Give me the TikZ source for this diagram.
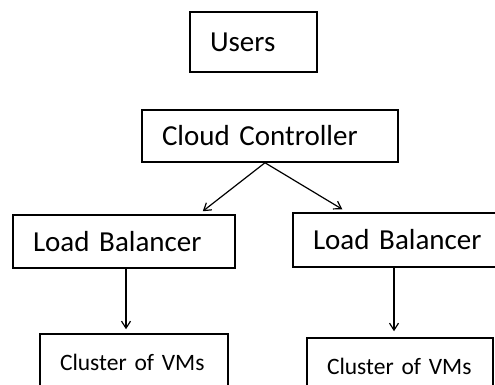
\documentclass[tikz,border=0pt]{standalone}
\usepackage{fontspec}
\setmainfont{Carlito}
\usetikzlibrary{positioning, arrows.meta, calc}

\tikzset{
  box/.style={draw, line width=1.5pt, align=left, inner xsep=20pt, inner ysep=0pt,
    text width=#1, font=\fontsize{29}{34}\selectfont},
  vmbox/.style={box=#1, font=\fontsize{23.5}{28}\selectfont},
  link/.style={->, line width=1.2pt}
}

\begin{document}
\begin{tikzpicture}[x=1pt, y=-1pt, >={Straight Barb[length=7pt, width=9pt]}]

  \clip (0,0) rectangle (495,385);

  % Boxes
  \node[box=87pt, minimum height=60pt] (users) at (253.5,42) {Users};
  \node[box=216pt, minimum height=52pt] (cc) at (270,136) {Cloud Controller};
  \node[box=182pt, minimum height=53pt] (lbl) at (124,241.5) {Load Balancer};
  \node[box=182pt, minimum height=54pt] (lbr) at (404,240) {Load Balancer};
  \node[vmbox=148pt, minimum height=56pt] (cll) at (134,362) {Cluster of VMs};
  \node[vmbox=146pt, minimum height=56pt] (clr) at (400,366) {Cluster of VMs};

  % Links
  \draw[link] ([xshift=-5pt]cc.south) -- ([xshift=-33pt,yshift=3pt]lbl.north east);
  \draw[link] ([xshift=-5pt]cc.south) -- ([xshift=50pt,yshift=3pt]lbr.north west);
  \draw[link] ([xshift=2pt]lbl.south) -- ([xshift=2pt,yshift=4pt]lbl.south |- cll.north);
  \draw[link] ([xshift=-6pt]clr.north |- lbr.south) -- ([xshift=-6pt,yshift=6pt]clr.north);

\end{tikzpicture}
\end{document}
